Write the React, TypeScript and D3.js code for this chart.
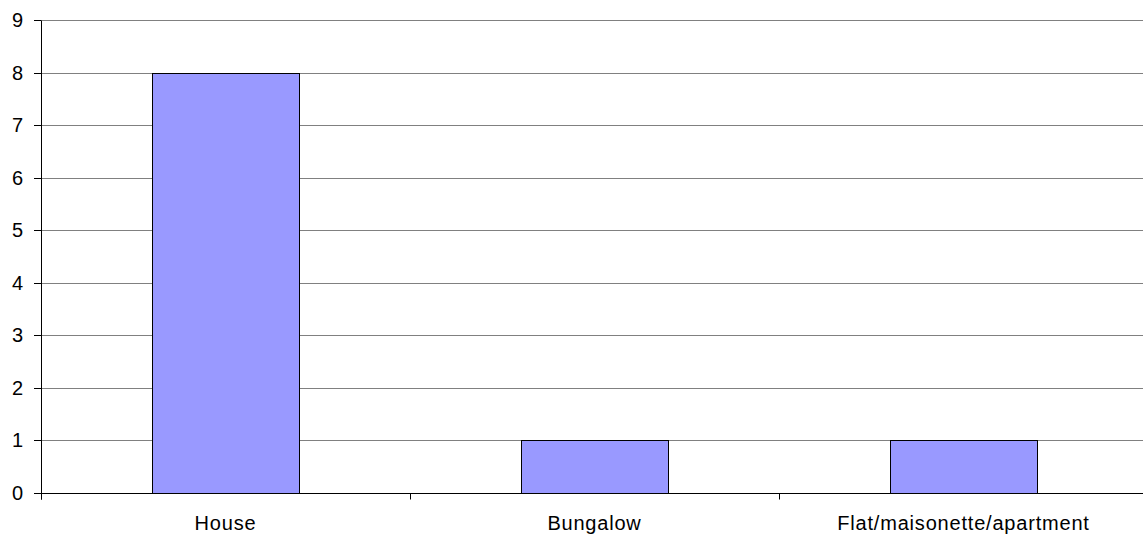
import React from "react";
import * as d3 from "d3";

const categories = ["House", "Bungalow", "Flat/maisonette/apartment"];
const counts = [8, 1, 1];
const yTicks = [0, 1, 2, 3, 4, 5, 6, 7, 8, 9];

const W = 1143;
const H = 534;
const left = 41;
const right = 1148;
const top = 20;
const bottom = 493;
const font = "'Liberation Sans', Arial, sans-serif";

export default function App() {
  const x = d3
    .scaleBand<string>()
    .domain(categories)
    .range([left, right])
    .paddingInner(0.6)
    .paddingOuter(0.3);
  const y = d3.scaleLinear().domain([0, 9]).range([bottom, top]);
  const step = x.step();
  const crisp = (v: number) => Math.round(v) + 0.5;
  const boundaries = d3.range(categories.length + 1).map((i) => left + i * step);

  return (
    <svg
      width={W}
      height={H}
      style={{ position: "absolute", left: 0, top: 0, background: "#fff" }}
      fontFamily={font}
    >
      <rect x={0} y={0} width={W} height={H} fill="#fff" />
      {yTicks.slice(1).map((t) => (
        <line
          key={"g" + t}
          x1={left}
          x2={right}
          y1={crisp(y(t))}
          y2={crisp(y(t))}
          stroke="#808080"
          strokeWidth={1}
        />
      ))}
      {categories.map((c, i) => {
        const x0 = Math.round(x(c)!);
        const x1 = Math.round(x(c)! + x.bandwidth());
        const y0 = Math.round(y(counts[i]));
        return (
          <rect
            key={c}
            x={x0 + 0.5}
            y={y0 + 0.5}
            width={x1 - x0}
            height={Math.round(y(0)) - y0}
            fill="#9999FF"
            stroke="#000"
            strokeWidth={1}
          />
        );
      })}
      {/* axes */}
      <line x1={left + 0.5} x2={left + 0.5} y1={crisp(y(9))} y2={crisp(y(0)) + 6} stroke="#000" />
      <line x1={left} x2={right} y1={crisp(y(0))} y2={crisp(y(0))} stroke="#000" />
      {yTicks.map((t) => (
        <g key={"t" + t}>
          <line x1={left - 7} x2={left} y1={crisp(y(t))} y2={crisp(y(t))} stroke="#000" />
          <text
            x={23}
            y={y(t)}
            dy="0.35em"
            textAnchor="end"
            fontSize={20}
            fill="#000"
          >
            {t}
          </text>
        </g>
      ))}
      {boundaries.map((b, i) => (
        <line
          key={"xb" + i}
          x1={crisp(b)}
          x2={crisp(b)}
          y1={crisp(y(0))}
          y2={crisp(y(0)) + 6}
          stroke="#000"
        />
      ))}
      {categories.map((c) => (
        <text
          key={"l" + c}
          x={x(c)! + x.bandwidth() / 2}
          y={529.5}
          textAnchor="middle"
          fontSize={20}
          letterSpacing={0.8}
          fill="#000"
        >
          {c}
        </text>
      ))}
    </svg>
  );
}
